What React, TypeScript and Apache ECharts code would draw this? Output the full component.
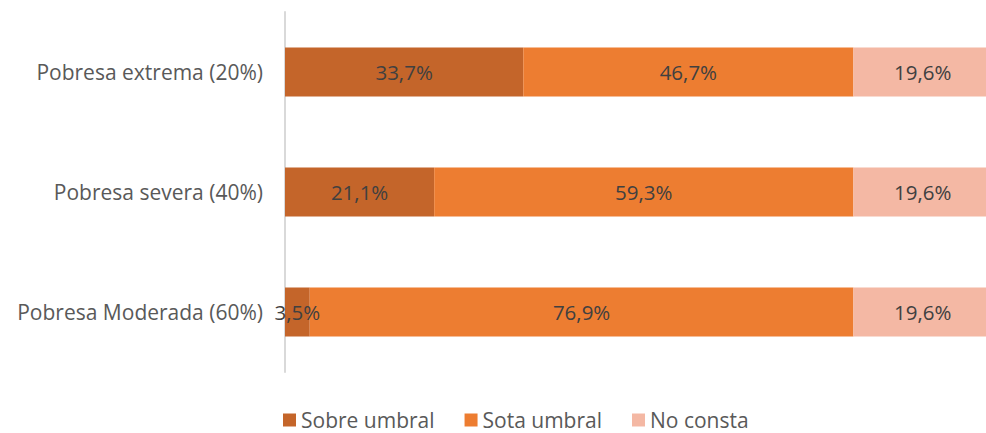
import React, { useEffect, useRef } from "react";
import * as echarts from "echarts";

const categories = ["Pobresa extrema (20%)", "Pobresa severa (40%)", "Pobresa Moderada (60%)"];
const sobreUmbral = [33.7, 21.1, 3.5];
const sotaUmbral = [46.7, 59.3, 76.9];
const noConsta = [19.6, 19.6, 19.6];
const seriesNames = ["Sobre umbral", "Sota umbral", "No consta"];
const colors = ["#C4652A", "#ED7D31", "#F4B8A4"];

const FONT = "Open Sans";

export default function App() {
  const ref = useRef<HTMLDivElement>(null);
  useEffect(() => {
    if (!ref.current) return;
    const chart = echarts.init(ref.current, undefined, { renderer: "svg" });
    const fmt = (p: any) => String(p.value).replace(".", ",") + "%";
    const mk = (name: string, data: number[], color: string) => ({
      name,
      type: "bar",
      stack: "total",
      data,
      barWidth: 49,
      itemStyle: { color },
      label: {
        show: true,
        position: "inside",
        formatter: fmt,
        color: "#404040",
        fontSize: 20.5,
        fontFamily: FONT,
      },
    });
    chart.setOption({
      animation: false,
      grid: { left: 285, top: 12, width: 707, height: 360, containLabel: false },
      xAxis: { type: "value", min: 0, max: 100, show: false },
      yAxis: {
        type: "category",
        data: categories,
        inverse: true,
        axisLine: { show: true, lineStyle: { color: "#D9D9D9", width: 2 } },
        axisTick: { show: false },
        axisLabel: { color: "#595959", fontSize: 21, fontFamily: FONT, margin: 22 },
      },
      legend: {
        top: 409,
        left: 283,
        padding: 0,
        itemWidth: 13,
        itemHeight: 13,
        itemGap: 30,
        icon: "rect",
        textStyle: { color: "#595959", fontSize: 21, fontFamily: FONT, lineHeight: 22 },
        data: seriesNames,
      },
      series: [
        mk(seriesNames[0], sobreUmbral, colors[0]),
        mk(seriesNames[1], sotaUmbral, colors[1]),
        mk(seriesNames[2], noConsta, colors[2]),
      ],
    });
    return () => chart.dispose();
  }, []);
  return (
    <div style={{ position: "absolute", left: 0, top: 0, width: 986, height: 433, overflow: "hidden" }}>
      <div ref={ref} style={{ width: 1000, height: 433 }} />
    </div>
  );
}
